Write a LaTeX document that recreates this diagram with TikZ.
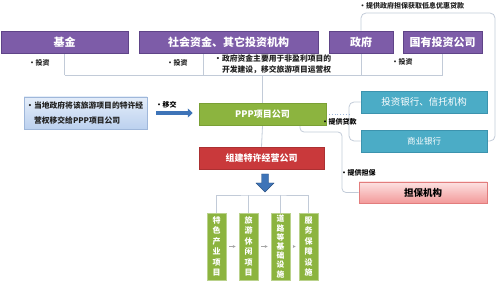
\documentclass[tikz,border=0pt]{standalone}
\usepackage{fontspec}
\setmainfont{Noto Sans CJK SC}
\usetikzlibrary{arrows.meta}
\definecolor{purp}{HTML}{7D5CA8}
\definecolor{purpd}{HTML}{5F4488}
\definecolor{grn}{HTML}{8CB43F}
\definecolor{grnd}{HTML}{7AA035}
\definecolor{redb}{HTML}{C9393B}
\definecolor{teal}{HTML}{4BACC6}
\definecolor{teald}{HTML}{3C93AE}
\definecolor{lnc}{HTML}{C2CBD8}
\definecolor{arblue}{HTML}{3E74B8}
\definecolor{lbtop}{HTML}{E4EDF9}
\definecolor{lbbot}{HTML}{BCD1EF}
\definecolor{lbbd}{HTML}{9FB7DA}
\definecolor{pktop}{HTML}{FDE2E2}
\definecolor{pkbot}{HTML}{F29A9A}
\definecolor{pkbd}{HTML}{E27D7D}
\definecolor{txt}{HTML}{222222}
\pgfdeclarelayer{bg}
\pgfsetlayers{bg,main}
\tikzset{
  pbox/.style={fill=purp, draw=purpd, line width=0.6pt, minimum height=22pt, inner sep=0pt, text=white, font=\fontsize{11}{13}\selectfont\bfseries},
  gbox/.style={fill=grn, draw=grnd, line width=0.5pt, minimum height=22pt, minimum width=127pt, inner sep=0pt, text=white, font=\fontsize{9}{11}\selectfont\bfseries},
  rbox/.style={fill=redb, draw=redb!85!black, line width=0.5pt, minimum height=22pt, minimum width=125pt, inner sep=0pt, text=white, font=\fontsize{9}{11}\selectfont\bfseries},
  tbox/.style={fill=teal, draw=teald, line width=0.6pt, minimum height=22pt, minimum width=126pt, inner sep=0pt, text=white},
  vbox/.style={fill=grn, draw=grn!60!white, line width=0.6pt, minimum width=19pt, minimum height=67pt, inner sep=0pt, text=white, align=center},
  lab/.style={inner sep=0pt, text=txt, font=\fontsize{7}{8}\selectfont\bfseries},
  blab/.style={inner sep=0pt, text=black, font=\fontsize{7}{8}\selectfont\bfseries},
  conn/.style={draw=lnc, line width=0.8pt},
}
\begin{document}
\begin{tikzpicture}[x=1pt,y=-1pt]
\useasboundingbox (0,0) rectangle (500,288);
% top row
\node[pbox, minimum width=127pt] (jijin) at (64.5,42) {基金};
\node[pbox, minimum width=179pt] (shehui) at (228.5,42) {社会资金、其它投资机构};
\node[pbox, minimum width=64pt] (zhengfu) at (361,42) {政府};
\node[pbox, minimum width=79pt] (guoyou) at (442.5,42) {国有投资公司};
% middle
\node[gbox] (ppp) at (262.5,114.5) {PPP项目公司};
\node[rbox] (zujian) at (261.5,158) {组建特许经营公司};
\node[draw=lbbd, line width=0.6pt, top color=lbtop, bottom color=lbbot, minimum width=123pt, minimum height=32pt, inner sep=0pt] (lb) at (85.5,113) {};
\node[inner sep=0pt, align=left, anchor=west, text=txt, font=\fontsize{7.8}{15}\selectfont\bfseries] (lbt) at (26,113) {・当地政府将该旅游项目的特许经\\\phantom{・}营权移交给PPP项目公司};
\node[tbox, font=\fontsize{9.5}{11}\selectfont] (touzi) at (424,102) {投资银行、信托机构};
\node[tbox, font=\fontsize{8.5}{10}\selectfont] (shangye) at (424,141) {商业银行};
\node[draw=pkbd, line width=0.6pt, top color=pktop, bottom color=pkbot, minimum width=128pt, minimum height=21pt, inner sep=0pt, font=\fontsize{9.5}{11}\selectfont\bfseries] (danbao) at (423,192.5) {担保机构};
% bottom boxes
\node[vbox, font=\fontsize{8}{10.5}\selectfont\bfseries] (b1) at (216.5,246.5) {特\\色\\产\\业\\项\\目};
\node[vbox, font=\fontsize{8}{10.5}\selectfont\bfseries] (b2) at (248.5,246.5) {旅\\游\\休\\闲\\项\\目};
\node[vbox, font=\fontsize{7.8}{9.2}\selectfont\bfseries] (b3) at (280.5,246.5) {道\\路\\等\\基\\础\\设\\施};
\node[vbox, font=\fontsize{8}{10.5}\selectfont\bfseries] (b4) at (308.5,246.5) {服\\务\\保\\障\\设\\施};
% labels
\node[lab] (l1) at (39,63) {・投资};
\node[lab] (l2) at (177,63) {・投资};
\node[inner sep=0pt, align=left, anchor=north west, text=txt, font=\fontsize{7.8}{11}\selectfont\bfseries] (l3) at (214,55) {・政府资金主要用于非盈利项目的\\\phantom{・}开发建设，移交旅游项目运营权};
\node[lab] (l4) at (402,62) {・投资};
\node[lab, anchor=west] (l5) at (359,6) {・提供政府担保获取低息优惠贷款};
\node[blab] (l6) at (166,105) {・移交};
\node[blab] (l7) at (339,122) {・提供贷款};
\node[blab] (l8) at (358,173) {・提供担保};
% coordinates
\coordinate (bus) at (265,75);
\coordinate (sL) at (203,75);
\coordinate (brk) at (349,114.5);
\coordinate (tr) at (495,13);
\coordinate (g1) at (300,132);
\coordinate (g2) at (342,132);
\coordinate (bus2) at (265,195);
\begin{pgfonlayer}{bg}
\draw[conn] (jijin.south) -- (jijin.south |- bus);
\draw[conn] (sL |- shehui.south) -- (sL);
\draw[conn] (jijin.south |- bus) -- (guoyou.south |- bus);
\draw[conn] (guoyou.south) -- (guoyou.south |- bus);
\draw[conn] (zhengfu.south) -- (zhengfu.south |- bus);
\draw[conn, rounded corners=5pt] (zhengfu.north) |- (tr) |- (shangye.east);
\draw[conn] (ppp.north |- bus) -- (ppp.north);
\draw[conn] (ppp.south) -- (zujian.north);
\draw[conn, rounded corners=5pt] (touzi.west) -| (brk) |- (shangye.west);
\draw[conn, dotted, draw=lbbd] (ppp.east) -- (brk);
\draw[conn, rounded corners=4pt] (g1 |- ppp.south) -- (g1) -- (g2) |- (danbao.west);
\draw[conn] (b1.north) |- (bus2) -| (b4.north);
\draw[conn] (b2.north) -- (b2.north |- bus2);
\draw[conn] (b3.north) -- (b3.north |- bus2);
\end{pgfonlayer}
% arrows
\draw[arblue, line width=3.5pt, -{Triangle[length=5pt,width=9pt]}] ([xshift=9pt]lb.east) -- ([xshift=-6pt]lb.east -| ppp.west);
\fill[arblue, draw=arblue!70!black, line width=0.4pt] (261.5,174) -- (268.5,174) -- (268.5,183) -- (274,183) -- (265,192) -- (256,183) -- (261.5,183) -- cycle;
\draw[draw=gray!70, line width=0.5pt, -{Stealth[length=3pt,width=3pt]}] ([xshift=3pt]b1.east) -- ([xshift=-3pt]b2.west);
\draw[draw=gray!70, line width=0.5pt, -{Stealth[length=3pt,width=3pt]}] ([xshift=3pt]b2.east) -- ([xshift=-3pt]b3.west);
\draw[draw=gray!70, line width=0.5pt, -{Stealth[length=3pt,width=3pt]}] ([xshift=3pt]b3.east) -- ([xshift=-3pt]b4.west);
\end{tikzpicture}
\end{document}
